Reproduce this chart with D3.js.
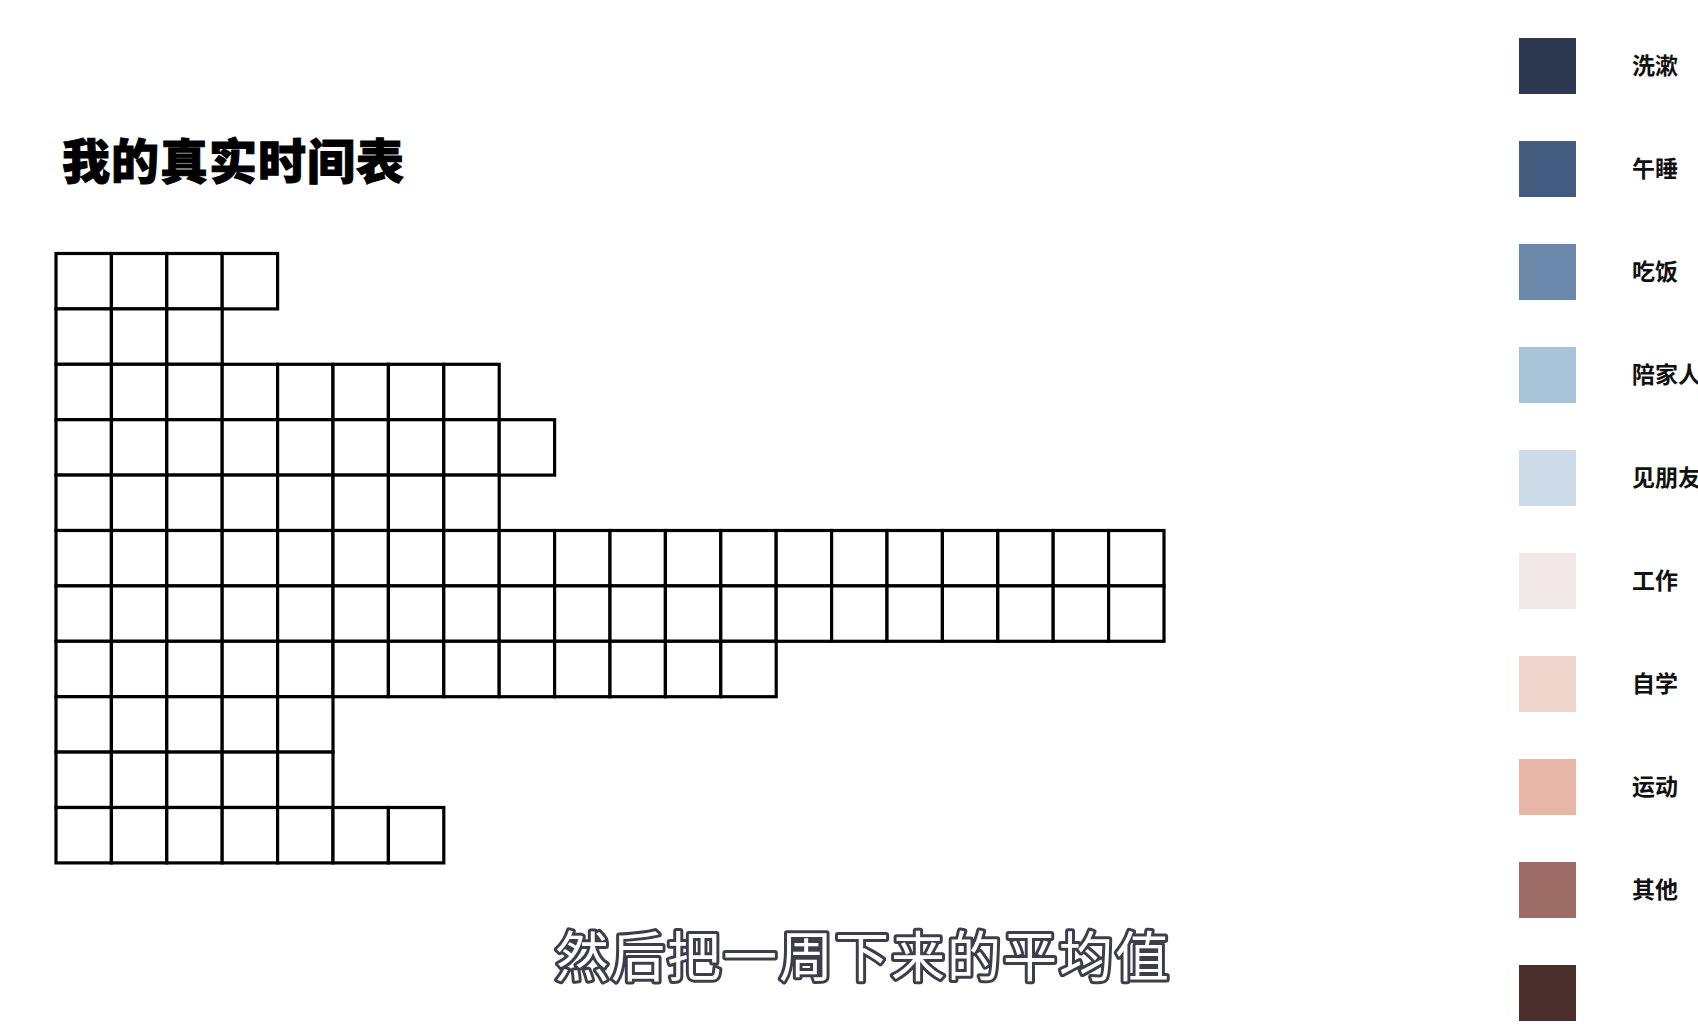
<!DOCTYPE html>
<html>

<head>
    <meta charset="utf-8">
    <title>我的真实时间表</title>
    <script src="https://d3js.org/d3.v7.min.js"></script>
    <style>
        html,
        body {
            margin: 0;
            padding: 0;
            width: 100%;
            height: 100%;
            overflow: hidden;
            background: #fff;
            font-family: "Noto Sans CJK SC", "Noto Sans", sans-serif;
        }

        #chart {
            width: 1698px;
            height: 1028px;
        }

        .cells rect {
            fill: #fff;
            stroke: #000;
            stroke-width: 3.2px;
        }

        .legend text {
            font-size: 23px;
            font-weight: 700;
            fill: #111;
        }

        .title {
            font-size: 48px;
            font-weight: 900;
            fill: #000;
            stroke: #000;
            stroke-width: 1px;
            letter-spacing: 1px;
        }

        .subtitle {
            font-size: 54px;
            font-weight: 400;
            fill: #fff;
            stroke: #3c3e4b;
            stroke-width: 6px;
            stroke-linejoin: round;
            paint-order: stroke;
            letter-spacing: 2px;
        }
    </style>
</head>

<body>
    <svg id="chart"></svg>

    <script>
        // Datos: número de casillas por fila (una casilla = una unidad de tiempo)
        const rowCounts = [4, 3, 8, 9, 8, 20, 20, 13, 5, 5, 7];

        // Leyenda
        const categories = ["洗漱", "午睡", "吃饭", "陪家人", "见朋友", "工作", "自学", "运动", "其他", ""];
        const colors = ["#2b3850", "#445b80", "#6b88ab", "#a7c3d8", "#ccdbe7",
            "#f2e8e7", "#f0d5cd", "#e8b6a6", "#9e6c66", "#4a2e2c"];

        const title = "我的真实时间表";
        const subtitle = "然后把一周下来的平均值";

        const width = 1698;
        const height = 1028;

        const svg = d3.select("#chart")
            .attr("width", width)
            .attr("height", height);

        // Escalas de la cuadrícula
        const maxCols = d3.max(rowCounts);
        const cell = 55.4;
        const x = d3.scaleLinear()
            .domain([0, maxCols])
            .range([56, 56 + maxCols * cell]);
        const y = d3.scaleLinear()
            .domain([0, rowCounts.length])
            .range([253.5, 253.5 + rowCounts.length * cell]);

        // Una celda por cada unidad
        const cells = rowCounts.flatMap((n, r) => d3.range(n).map(c => ({ r, c })));

        svg.append("g")
            .attr("class", "cells")
            .selectAll("rect")
            .data(cells)
            .enter().append("rect")
            .attr("x", d => x(d.c))
            .attr("y", d => y(d.r))
            .attr("width", x(1) - x(0))
            .attr("height", y(1) - y(0));

        // Título
        svg.append("text")
            .attr("class", "title")
            .attr("x", 62)
            .attr("y", 179)
            .text(title);

        // Leyenda
        const ly = d3.scaleLinear()
            .domain([0, 1])
            .range([38, 141]);

        const legend = svg.append("g")
            .attr("class", "legend")
            .selectAll("g")
            .data(categories)
            .enter().append("g")
            .attr("transform", (d, i) => `translate(1519,${ly(i)})`);

        legend.append("rect")
            .attr("width", 57)
            .attr("height", 56)
            .attr("fill", (d, i) => colors[i]);

        legend.append("text")
            .attr("x", 113)
            .attr("y", 28)
            .attr("dy", "0.36em")
            .text(d => d);

        // Subtítulo
        svg.append("text")
            .attr("class", "subtitle")
            .attr("x", 863)
            .attr("y", 977)
            .attr("text-anchor", "middle")
            .text(subtitle);
    </script>
</body>

</html>
